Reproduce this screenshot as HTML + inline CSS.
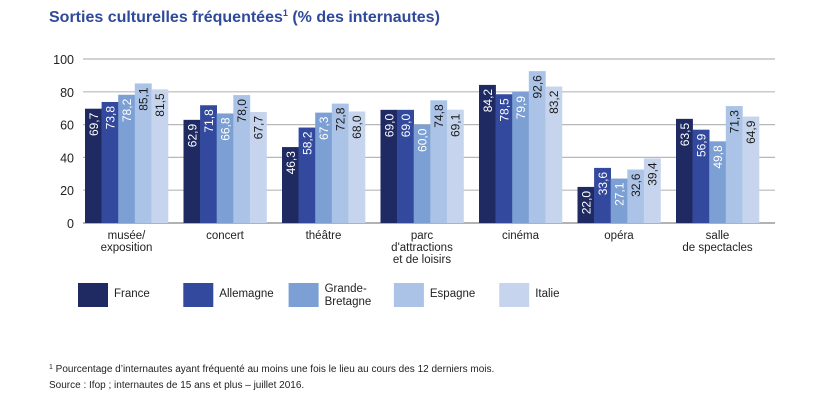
<!DOCTYPE html>
<html><head><meta charset="utf-8"><style>
body{margin:0;background:#fff;font-family:"Liberation Sans",sans-serif}
svg{display:block}
</style></head><body>
<svg id="chart" width="816" height="403" xmlns="http://www.w3.org/2000/svg">
<text x="49" y="22" font-size="16" font-weight="bold" fill="#2f4a9a">Sorties culturelles fréquentées<tspan font-size="9" dy="-6">1</tspan><tspan dy="6"> (% des internautes)</tspan></text>
<g id="grid"></g><g id="bars"></g><g id="xlabels"></g><g id="legend"></g>
<text x="49" y="372" font-size="10" fill="#222"><tspan font-size="7" dy="-3">1</tspan><tspan dy="3"> Pourcentage d’internautes ayant fréquenté au moins une fois le lieu au cours des 12 derniers mois.</tspan></text>
<text x="49" y="388" font-size="10" fill="#222">Source : Ifop ; internautes de 15 ans et plus – juillet 2016.</text>
</svg>
<script>
const categories=[["musée/","exposition"],["concert"],["théâtre"],["parc","d'attractions","et de loisirs"],["cinéma"],["opéra"],["salle","de spectacles"]];
const seriesNames=["France","Allemagne","Grande-|Bretagne","Espagne","Italie"];
const france=[69.7,62.9,46.3,69.0,84.2,22.0,63.5];
const allemagne=[73.8,71.8,58.2,69.0,78.5,33.6,56.9];
const grandeBretagne=[78.2,66.8,67.3,60.0,79.9,27.1,49.8];
const espagne=[85.1,78.0,72.8,74.8,92.6,32.6,71.3];
const italie=[81.5,67.7,68.0,69.1,83.2,39.4,64.9];
const yTicks=[0,20,40,60,80,100];
const series=[france,allemagne,grandeBretagne,espagne,italie];
const colors=["#1f2a62","#33499d","#7c9fd4","#abc3e6","#c6d5ed"];
const textColors=["#fff","#fff","#fff","#1a1a1a","#1a1a1a"];
const NS="http://www.w3.org/2000/svg";
const x0=83,x1=775,y0=223,yTop=59;
const y=v=>y0-(v/100)*(y0-yTop);
const gw=98.5,bw=16.6,gstart=x0+2;
function el(t,a,p){const e=document.createElementNS(NS,t);for(const k in a)e.setAttribute(k,a[k]);p.appendChild(e);return e;}
const grid=document.getElementById('grid');
yTicks.forEach(t=>{
 const l=el('line',{x1:x0,x2:x1,y1:y(t),y2:y(t),stroke:t===0?'#999':'#b8b8b8','stroke-width':t===0?1.5:1.2},grid);
 
 
 const tx=el('text',{x:74,y:y(t)+5,'font-size':12.5,'text-anchor':'end',fill:'#222'},grid);
 tx.textContent=t;
 
 
});
const bars=document.getElementById('bars');
categories.forEach((c,i)=>{
 series.forEach((s,j)=>{
  const bx=gstart+i*gw+j*bw;
  const r=el('rect',{x:bx,y:y(s[i]),width:bw+0.3,height:y0-y(s[i]),fill:colors[j]},bars);
  
  
  const cx=bx+bw/2+4.5,cy=y(s[i])+4;
  const t=el('text',{x:cx,y:cy,'font-size':12,fill:textColors[j],'text-anchor':'end',transform:`rotate(-90 ${cx} ${cy})`},bars);
  t.textContent=s[i].toFixed(1).replace('.',',');
  
  
 });
 const xl=document.getElementById('xlabels');
 c.forEach((line,k)=>{
  const t=el('text',{x:gstart+i*gw+bw*2.5,y:239+k*12,'font-size':11.5,'text-anchor':'middle',fill:'#222'},xl);
  t.textContent=line;
  
  
 });
});
const lg=document.getElementById('legend');
seriesNames.forEach((n,j)=>{
 const lx=78+j*105.3;
 const r=el('rect',{x:lx,y:283,width:30,height:24,fill:colors[j]},lg);
 
 
 const parts=n.split('|');
 parts.forEach((p,k)=>{
  const t=el('text',{x:lx+36,y:(parts.length>1?292:297)+k*13,'font-size':11.5,fill:'#222'},lg);
  t.textContent=p;
  
  
 });
});
</script>
</body></html>
